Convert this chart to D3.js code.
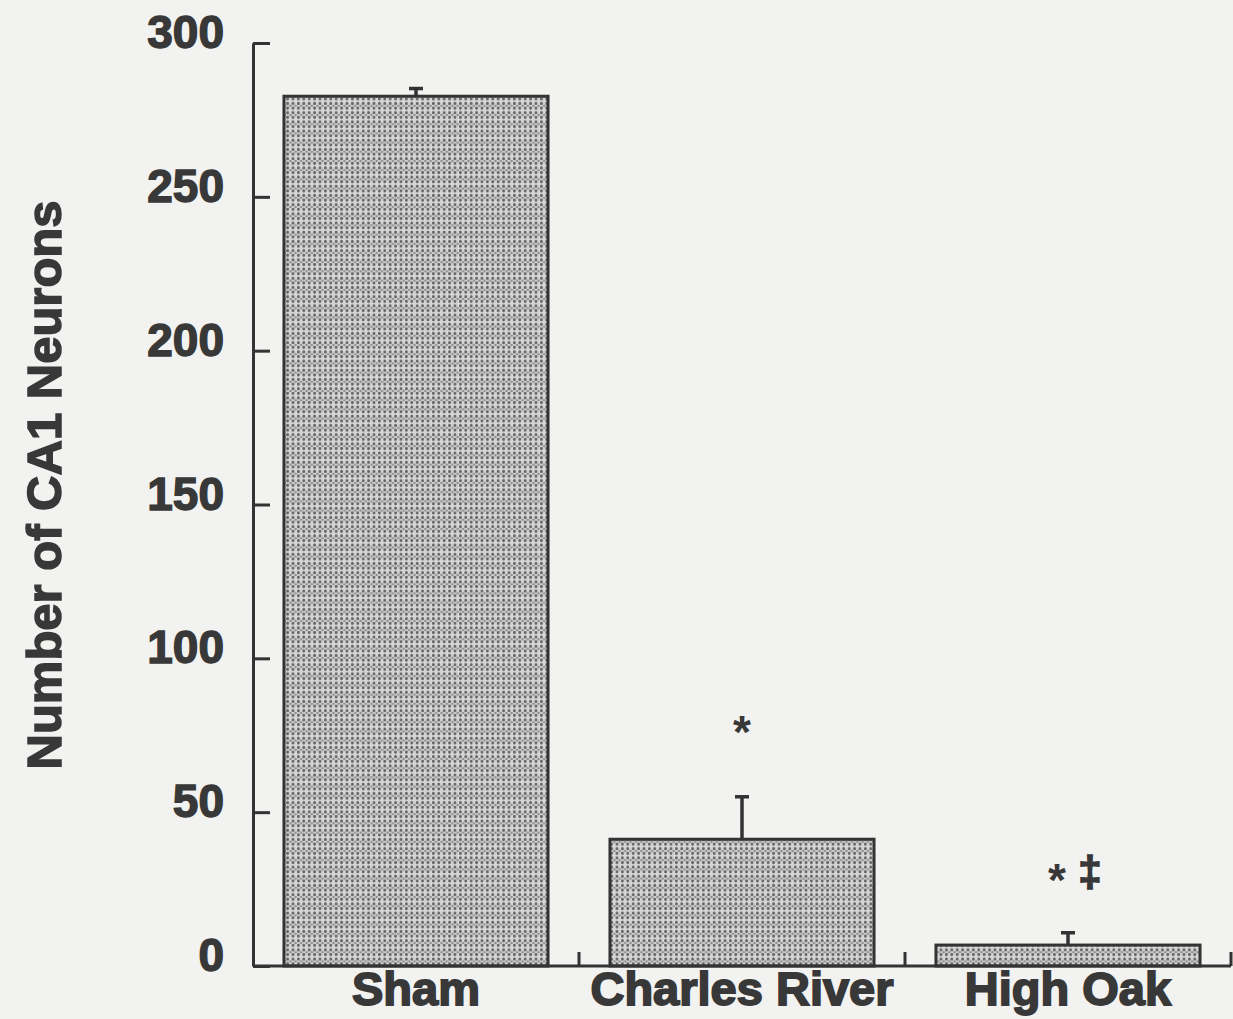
<!DOCTYPE html>
<html>
<head>
<meta charset="utf-8">
<script src="https://cdn.jsdelivr.net/npm/d3@7.9.0/dist/d3.min.js"></script>
<style>
  html, body { margin: 0; padding: 0; background: #f2f2f0; }
  svg { display: block; }
  text { font-family: 'Liberation Sans', Arial, sans-serif; font-weight: bold; fill: #383838; }
</style>
</head>
<body>
<div id="chart"></div>
<script>
const groups = ['Sham', 'Charles River', 'High Oak'];
const means = [282.7, 41.2, 6.8];
const sems = [2.5, 13.8, 4.0];
// significance marks: '*' vs Sham, '\u2021' vs Charles River
const starLevel = [null, 78, 30];
const daggerLevel = [null, null, 30];
const yTicks = [0, 50, 100, 150, 200, 250, 300];

const width = 1233;
const height = 1019;
const ink = '#333';
const textInk = '#383838';

const svg = d3.select('#chart')
  .append('svg')
  .attr('width', width)
  .attr('height', height);

// dotted fill like the scanned bar texture
const defs = svg.append('defs');
const pat = defs.append('pattern')
  .attr('id', 'dots')
  .attr('patternUnits', 'userSpaceOnUse')
  .attr('width', 5.4)
  .attr('height', 9.2);
pat.append('rect').attr('width', 5.4).attr('height', 9.2).attr('fill', '#d6d6d6');
pat.append('circle').attr('cx', 1.4).attr('cy', 2.3).attr('r', 1.5).attr('fill', '#666');
pat.append('circle').attr('cx', 1.4).attr('cy', 6.9).attr('r', 1.5).attr('fill', '#666');
pat.append('circle').attr('cx', 4.1).attr('cy', 4.6).attr('r', 1.15).attr('fill', '#858585');

const area = { left: 253, right: 1231, top: 43, bottom: 966 };

const x = d3.scaleBand()
  .domain(groups)
  .range([area.left, area.right])
  .paddingInner(0.19)
  .paddingOuter(0.095);

const y = d3.scaleLinear()
  .domain([0, 300])
  .range([area.bottom, area.top]);

// y axis: ticks point into the plot
const yAxis = svg.append('g')
  .attr('transform', `translate(${area.left},0)`)
  .call(d3.axisLeft(y).tickValues(yTicks).tickSize(-17).tickSizeOuter(0).tickPadding(29));
yAxis.select('.domain').attr('stroke', ink).attr('stroke-width', 3);
yAxis.selectAll('.tick line').attr('stroke', ink).attr('stroke-width', 3);
yAxis.selectAll('.tick text')
  .attr('font-size', 46)
  .attr('dy', '0.1em')
  .attr('stroke', textInk)
  .attr('stroke-width', 1.4)
  .style('font-family', "'Liberation Sans', Arial, sans-serif")
  .style('font-weight', 'bold')
  .style('fill', textInk);

// bars
svg.append('g')
  .selectAll('rect')
  .data(groups)
  .join('rect')
  .attr('x', (d) => x(d))
  .attr('y', (d, i) => y(means[i]))
  .attr('width', x.bandwidth())
  .attr('height', (d, i) => y(0) - y(means[i]))
  .attr('fill', 'url(#dots)')
  .attr('stroke', ink)
  .attr('stroke-width', 3);

// error bars (upper only)
const err = svg.append('g').attr('stroke', ink).attr('stroke-width', 3.5);
groups.forEach((g, i) => {
  const cx = x(g) + x.bandwidth() / 2;
  err.append('line')
    .attr('x1', cx).attr('x2', cx)
    .attr('y1', y(means[i])).attr('y2', y(means[i] + sems[i]));
  err.append('line')
    .attr('x1', cx - 7).attr('x2', cx + 7)
    .attr('y1', y(means[i] + sems[i])).attr('y2', y(means[i] + sems[i]));
});

// x axis with ticks at category boundaries
const xg = svg.append('g');
xg.append('line')
  .attr('x1', area.left).attr('x2', area.right)
  .attr('y1', y(0)).attr('y2', y(0))
  .attr('stroke', ink).attr('stroke-width', 3);
const bounds = d3.range(1, groups.length + 1).map((i) => area.left + i * x.step());
xg.selectAll('.bt')
  .data(bounds)
  .join('line')
  .attr('class', 'bt')
  .attr('x1', (d) => d).attr('x2', (d) => d)
  .attr('y1', y(0)).attr('y2', y(0) - 14)
  .attr('stroke', ink).attr('stroke-width', 3);

xg.selectAll('.xl')
  .data(groups)
  .join('text')
  .attr('class', 'xl')
  .attr('x', (d) => x(d) + x.bandwidth() / 2)
  .attr('y', 1005)
  .attr('text-anchor', 'middle')
  .attr('font-size', 47)
  .attr('stroke', textInk)
  .attr('stroke-width', 1.8)
  .text((d) => d);

// significance marks
const sig = svg.append('g');
groups.forEach((g, i) => {
  const cx = x(g) + x.bandwidth() / 2;
  const hasDagger = daggerLevel[i] != null;
  if (starLevel[i] != null) {
    sig.append('text')
      .attr('x', hasDagger ? cx - 11 : cx)
      .attr('y', y(starLevel[i]) + 22)
      .attr('text-anchor', 'middle')
      .attr('font-size', 46)
      .text('*');
  }
  if (hasDagger) {
    sig.append('text')
      .attr('x', cx + 22)
      .attr('y', y(daggerLevel[i]) + 12)
      .attr('text-anchor', 'middle')
      .attr('font-size', 42)
      .attr('stroke', textInk)
      .attr('stroke-width', 1.6)
      .text('\u2021');
  }
});

// y axis title
svg.append('text')
  .attr('transform', `translate(61,${485}) rotate(-90)`)
  .attr('text-anchor', 'middle')
  .attr('font-size', 49)
  .attr('stroke', textInk)
  .attr('stroke-width', 1.5)
  .text('Number of CA1 Neurons');
</script>
</body>
</html>
